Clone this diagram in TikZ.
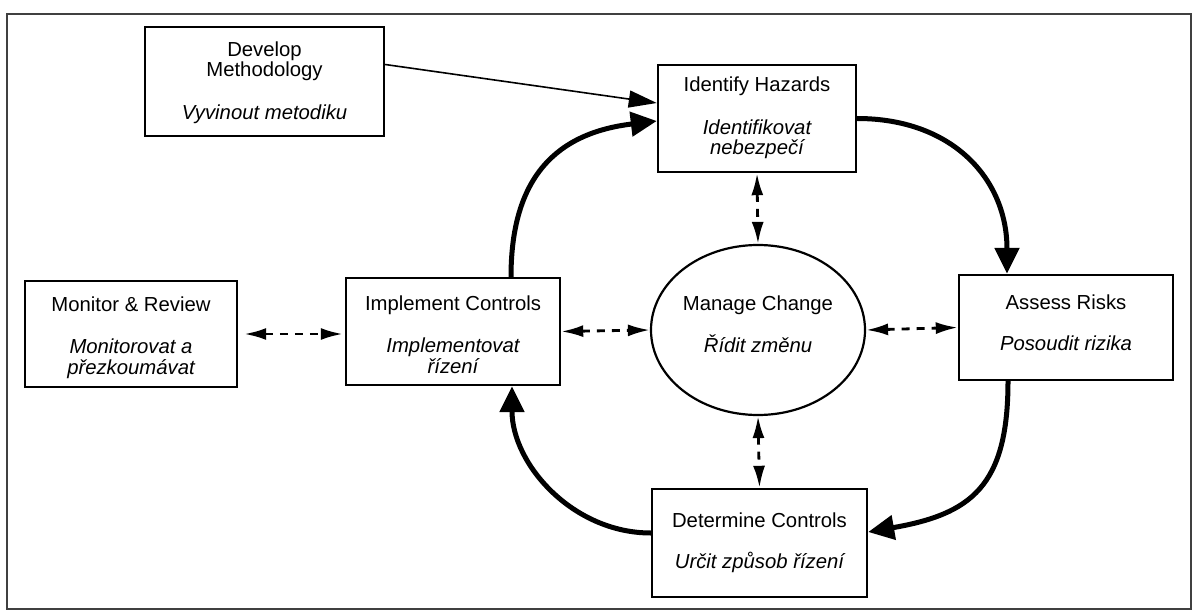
\documentclass[tikz,border=0pt]{standalone}
\usepackage{fontspec}
\setmainfont{Liberation Sans}
\usetikzlibrary{arrows.meta,shapes.geometric}
\begin{document}
\begin{tikzpicture}[x=1pt,y=-1pt,
  stepbox/.style={draw,line width=2.4pt,inner sep=0pt},
  hubnode/.style={draw,ellipse,line width=2.2pt,inner sep=0pt,
    minimum width=214pt,minimum height=170pt},
  txt/.style={anchor=base,inner sep=0pt,font=\fontsize{20.3}{22}\selectfont},
  itxt/.style={anchor=base,inner sep=0pt,font=\fontsize{20.3}{22}\selectfont\itshape},
  loopflow/.style={line width=5pt,-{Triangle[length=26pt,width=24pt]}},
  feedline/.style={line width=1.6pt,-{Triangle[length=28pt,width=17pt]}},
  twoway/.style={line width=2.8pt,dash pattern=on 8pt off 7pt,
    {Latex[length=22pt,width=12pt]}-{Latex[length=22pt,width=12pt]}},
]
\useasboundingbox (0,0) rectangle (1193,612);

% outer frame
\draw[line width=1.4pt,black!75] (7,14) rectangle (1191,609);

% process boxes
\node[stepbox,minimum width=239pt,minimum height=109pt] (dev) at (264.5,81.5) {};
\node[stepbox,minimum width=198pt,minimum height=107pt] (ide) at (757,118.5) {};
\node[stepbox,minimum width=212pt,minimum height=106pt] (mon) at (131,334) {};
\node[stepbox,minimum width=214pt,minimum height=107pt] (imp) at (453,331.5) {};
\node[hubnode] (mc) at (758,330) {};
\node[stepbox,minimum width=214pt,minimum height=105pt] (ass) at (1066,327.5) {};
\node[stepbox,minimum width=215pt,minimum height=108pt] (det) at (759.5,543) {};

% labels
\node[txt]  (dev-a) at (264.5,57)  {Develop};
\node[txt]  (dev-b) at (264.5,77)  {Methodology};
\node[itxt] (dev-c) at (264.5,120) {Vyvinout metodiku};

\node[txt]  (ide-a) at (757,92)  {Identify Hazards};
\node[itxt] (ide-b) at (757,135) {Identifikovat};
\node[itxt] (ide-c) at (757,155) {nebezpečí};

\node[txt]  (mon-a) at (131,311) {Monitor \& Review};
\node[itxt] (mon-b) at (131,353) {Monitorovat a};
\node[itxt] (mon-c) at (131,374) {přezkoumávat};

\node[txt]  (imp-a) at (453,310) {Implement Controls};
\node[itxt] (imp-b) at (453,352) {Implementovat};
\node[itxt] (imp-c) at (453,373) {řízení};

\node[txt]  (mc-a) at (758,310) {Manage Change};
\node[itxt] (mc-b) at (758,352) {Řídit změnu};

\node[txt]  (ass-a) at (1066,309) {Assess Risks};
\node[itxt] (ass-b) at (1066,350) {Posoudit rizika};

\node[txt]  (det-a) at (759.5,527) {Determine Controls};
\node[itxt] (det-b) at (759.5,568) {Určit způsob řízení};

% methodology feeds hazard identification
\draw[feedline] ([yshift=17pt]dev.east) -- ([yshift=15.5pt]ide.west);

% the main cycle
\draw[loopflow] ([xshift=58pt]imp.north) .. controls +(0,-100) and +(-100,12) .. ([yshift=-2.5pt]ide.west);
\draw[loopflow] (ide.east) .. controls +(95,0) and +(0,-95) .. ([xshift=-59pt]ass.north);
\draw[loopflow] ([xshift=-58pt]ass.south) .. controls +(0,105) and +(103,-18) .. ([yshift=11pt]det.east);
\draw[loopflow] ([yshift=10pt]det.west) .. controls +(-78,0) and +(0,78) .. ([xshift=59pt]imp.south);

% two-way links
\draw[twoway] ([xshift=6pt]mon.east) -- ([xshift=-2pt]mon.east -| imp.west);
\draw[twoway] (imp.east) -- (mc.west);
\draw[twoway] (mc.east) -- (ass.west);
\draw[twoway] (ide.south) -- (mc.north);
\draw[twoway] (mc.south) -- (det.north);
\end{tikzpicture}
\end{document}
